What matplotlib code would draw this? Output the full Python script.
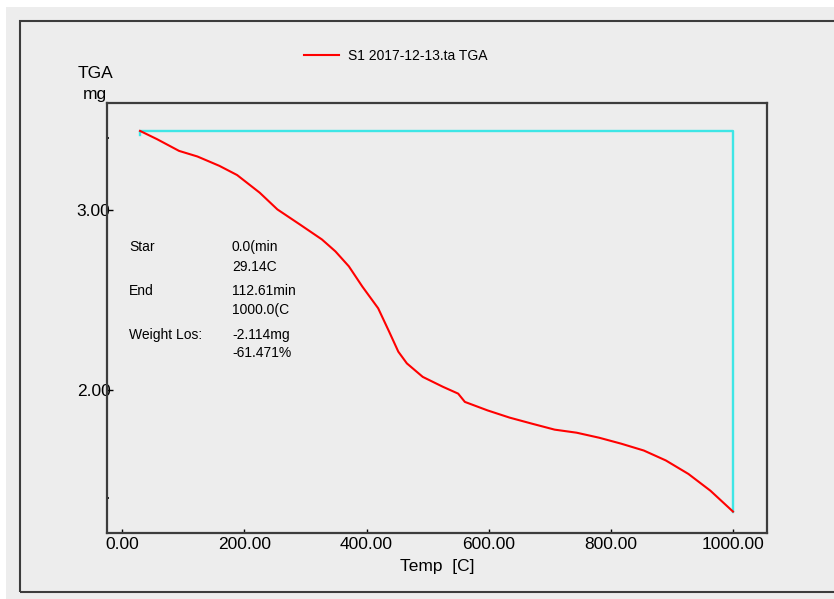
import matplotlib
matplotlib.use("Agg")
import matplotlib.pyplot as plt
from matplotlib.patches import Rectangle
from matplotlib.lines import Line2D

plt.rcParams['font.family'] = ['Liberation Sans', 'DejaVu Sans']

# TGA curve
temp = [29.1, 57, 93, 123, 159, 188, 225, 254, 291, 327, 349, 371, 393, 419,
        437, 452, 466, 492, 525, 550, 561, 598, 634, 671, 708, 744, 781, 817,
        854, 890, 927, 963, 1000]
mass = [3.439, 3.393, 3.328, 3.297, 3.245, 3.194, 3.096, 3.003, 2.919, 2.836,
        2.770, 2.687, 2.575, 2.454, 2.324, 2.213, 2.148, 2.073, 2.018, 1.980,
        1.934, 1.887, 1.847, 1.813, 1.780, 1.763, 1.735, 1.702, 1.664, 1.609,
        1.534, 1.441, 1.325]

# step marker (start / end)
step_t = [29.14, 29.14, 1000.0, 1000.0]
step_m = [3.418, 3.439, 3.439, 1.325]

xticks = [0, 200, 400, 600, 800, 1000]
yticks = [2.0, 3.0]
minor_y = [1.4, 3.4]

info_left = ["Star", "End", "Weight Los:"]
info_right = ["0.0(min", "29.14C", "112.61min", "1000.0(C", "-2.114mg", "-61.471%"]

W, H = 834, 599
bg = '#ededed'
fig = plt.figure(figsize=(W / 100, H / 100), dpi=100, facecolor='white')

def px(x, y):
    return x / W, 1 - y / H

# grey panel and outer frame
fig.patches.append(Rectangle((6 / W, 0), 1, 1 - 7 / H, transform=fig.transFigure,
                             facecolor=bg, edgecolor='none', zorder=-2))
fig.patches.append(Rectangle((20 / W, 7 / H), 1.1, 1 - 28 / H, transform=fig.transFigure,
                             facecolor='none', edgecolor='#3c3c3c', lw=1.5, zorder=-1))

ax = fig.add_axes([107 / W, (H - 533) / H, (767 - 107) / W, (533 - 103) / H])
ax.set_facecolor(bg)
ax.plot(step_t, step_m, color='#3ee6e6', lw=1.7)
ax.plot(temp, mass, color='#ff0000', lw=1.5)

ax.set_xlim(-25, 1055.7)
ax.set_ylim(1.206, 3.594)
ax.set_xticks(xticks)
ax.set_xticklabels([f"{v:.2f}" for v in xticks])
ax.set_yticks(yticks)
ax.set_yticklabels([f"{v:.2f}" for v in yticks])
ax.set_yticks(minor_y, minor=True)
ax.tick_params(axis='x', direction='in', length=3, width=1, pad=3, labelsize=12.5)
ax.tick_params(axis='y', direction='in', length=4, width=1, pad=-2.5, labelsize=12.5)
ax.tick_params(axis='y', which='minor', direction='in', length=1.5, width=1.2)
for s in ax.spines.values():
    s.set_color('#3c3c3c')
    s.set_linewidth(1.6)

fig.text(*px(95, 74), "TGA", ha='center', va='center', fontsize=12.5)
fig.text(*px(95, 94), "mg", ha='center', va='center', fontsize=12.5)
fig.text(*px(437, 566), "Temp  [C]", ha='center', va='center', fontsize=12.5)

left_y = [247, 291, 335]
right_y = [247, 267, 291, 310, 335, 353]
for t, y in zip(info_left, left_y):
    fig.text(*px(129, y), t, ha='left', va='center', fontsize=10)
for t, y in zip(info_right, right_y):
    fig.text(*px(232, y), t, ha='left', va='center', fontsize=10)

fig.legend([Line2D([], [], color='#ff0000', lw=1.5)], ["S1 2017-12-13.ta TGA"],
           loc='center', bbox_to_anchor=px(396, 56), frameon=False, fontsize=10,
           handlelength=2.5, handletextpad=0.7)

fig.savefig("out.png", dpi=100, facecolor=fig.get_facecolor())
